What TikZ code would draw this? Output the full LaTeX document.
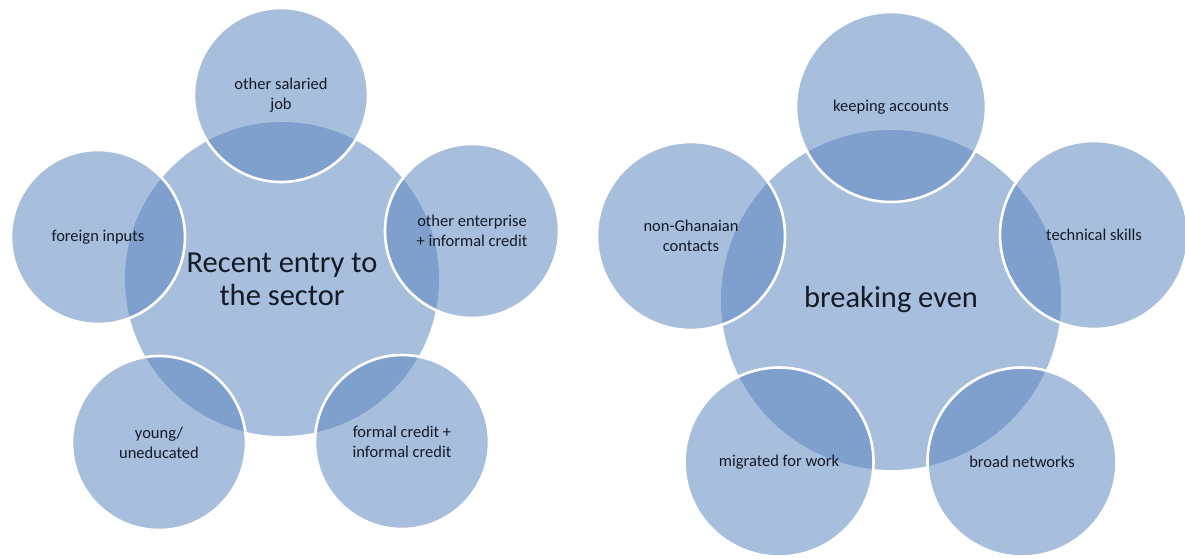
\documentclass[tikz,border=0pt]{standalone}
\usepackage{fontspec}
\setmainfont{Carlito}
\definecolor{hubfill}{RGB}{167,190,221}
\definecolor{satfill}{RGB}{95,137,193}
\definecolor{labeltext}{RGB}{20,26,38}
\begin{document}
\begin{tikzpicture}[x=1pt,y=-1pt,
  hub/.style={circle, fill=hubfill, draw=none, inner sep=0pt,
    text=labeltext, align=center, font=\fontsize{30.5}{33}\selectfont},
  sat/.style={circle, fill=satfill, fill opacity=0.55, text opacity=1,
    draw=white, line width=2.6pt, inner sep=0pt,
    text=labeltext, align=center, font=\fontsize{16.5}{19.5}\selectfont}]
\useasboundingbox (0,0) rectangle (1185,558);

% ---- first radial diagram ----
\node[hub, minimum size=314pt] (recent) at (282,279) {Recent entry to\\the sector};
\node[sat, minimum size=174pt] (salaried) at (281,95) {other salaried\\job};
\node[sat, minimum size=174pt] (enterprise) at (472,231) {other enterprise\\+ informal credit};
\node[sat, minimum size=174pt] (foreign) at (98,237) {foreign inputs};
\node[sat, minimum size=174pt] (young) at (159,443) {young/\\uneducated};
\node[sat, minimum size=174pt] (formal) at (402,442) {formal credit +\\informal credit};

% ---- second radial diagram ----
\node[hub, minimum size=340pt] (even) at (891,300) {breaking even};
\node[sat, minimum size=190pt] (accounts) at (891,107) {keeping accounts};
\node[sat, minimum size=188pt] (contacts) at (691,236) {non-Ghanaian\\contacts};
\node[sat, minimum size=188pt] (skills) at (1094,235) {technical skills};
\node[sat, minimum size=189pt] (migrated) at (779,462) {migrated for work};
\node[sat, minimum size=189pt] (networks) at (1022,462) {broad networks};
\end{tikzpicture}
\end{document}
